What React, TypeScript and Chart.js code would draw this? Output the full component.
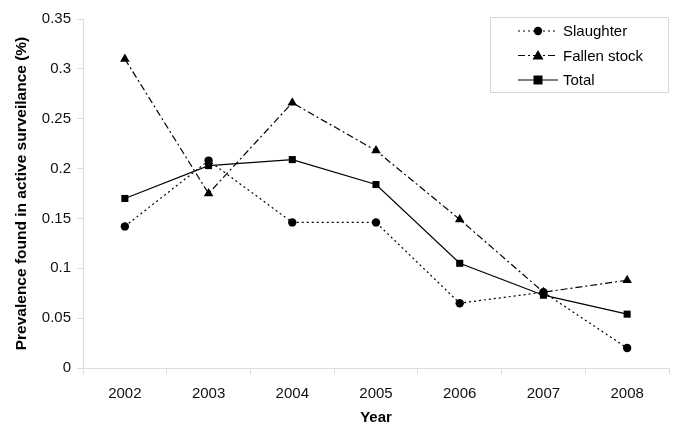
import React, { useEffect, useRef } from "react";
import { Chart, registerables } from "chart.js";

Chart.register(...registerables);

const years = ["2002", "2003", "2004", "2005", "2006", "2007", "2008"];
const slaughter = [0.142, 0.208, 0.146, 0.146, 0.065, 0.076, 0.02];
const fallenStock = [0.31, 0.175, 0.266, 0.218, 0.149, 0.076, 0.088];
const total = [0.17, 0.203, 0.209, 0.184, 0.105, 0.073, 0.054];
const yTicks = [0, 0.05, 0.1, 0.15, 0.2, 0.25, 0.3, 0.35];

const FONT = "'Liberation Sans', Arial, sans-serif";

const legendItems = [
  { label: "Slaughter", dash: [2, 3], style: "circle" },
  { label: "Fallen stock", dash: [7, 3, 2, 3], style: "triangle" },
  { label: "Total", dash: [], style: "rect" },
];

function drawMarker(ctx: CanvasRenderingContext2D, style: string, x: number, y: number) {
  ctx.beginPath();
  if (style === "circle") {
    ctx.arc(x, y, 4.2, 0, Math.PI * 2);
  } else if (style === "triangle") {
    ctx.moveTo(x, y - 5.5);
    ctx.lineTo(x + 5.5, y + 4);
    ctx.lineTo(x - 5.5, y + 4);
    ctx.closePath();
  } else {
    ctx.rect(x - 4.5, y - 4.5, 9, 9);
  }
  ctx.fill();
}

const legendPlugin = {
  id: "customLegend",
  afterDraw(chart: any) {
    const ctx = chart.ctx as CanvasRenderingContext2D;
    ctx.save();
    ctx.strokeStyle = "#d8d8d8";
    ctx.lineWidth = 1;
    ctx.strokeRect(490.5, 17.5, 178, 75);
    ctx.font = `15px ${FONT}`;
    ctx.textBaseline = "middle";
    legendItems.forEach((it, i) => {
      const y = 31 + i * 24.5;
      ctx.strokeStyle = "#000";
      ctx.fillStyle = "#000";
      ctx.lineWidth = 1.2;
      ctx.setLineDash(it.dash);
      ctx.beginPath();
      ctx.moveTo(518, y);
      ctx.lineTo(558, y);
      ctx.stroke();
      ctx.setLineDash([]);
      drawMarker(ctx, it.style, 538, y);
      ctx.fillText(it.label, 563, y + 1);
    });
    ctx.restore();
  },
};

export default function App() {
  const ref = useRef<HTMLCanvasElement | null>(null);
  useEffect(() => {
    if (!ref.current) return;
    const chart = new Chart(ref.current, {
      type: "line",
      data: {
        labels: years,
        datasets: [
          {
            label: "Slaughter",
            data: slaughter,
            borderColor: "#000",
            backgroundColor: "#000",
            borderWidth: 1.2,
            borderDash: [2, 3],
            pointStyle: "circle",
            pointRadius: 4.2,
            pointBorderWidth: 0,
          },
          {
            label: "Fallen stock",
            data: fallenStock,
            borderColor: "#000",
            backgroundColor: "#000",
            borderWidth: 1.2,
            borderDash: [7, 3, 2, 3],
            pointStyle: "triangle",
            pointRadius: 5.5,
            pointBorderWidth: 0,
          },
          {
            label: "Total",
            data: total,
            borderColor: "#000",
            backgroundColor: "#000",
            borderWidth: 1.2,
            pointStyle: "rect",
            pointRadius: 5,
            pointBorderWidth: 0,
          },
        ],
      },
      options: {
        animation: false,
        responsive: false,
        layout: { padding: { top: 19, right: 16, left: 12, bottom: 0 } },
        plugins: { legend: { display: false }, tooltip: { enabled: false } },
        scales: {
          x: {
            offset: true,
            grid: { offset: true, drawOnChartArea: false, color: "#dcdcdc", tickLength: 6 },
            border: { color: "#dcdcdc" },
            ticks: { color: "#111", font: { family: FONT, size: 15 }, padding: 11 },
            title: {
              display: true,
              text: "Year",
              color: "#000",
              font: { family: FONT, size: 15, weight: "bold" },
              padding: { top: 0, bottom: 0 },
            },
            afterFit: (s: any) => {
              s.height = 59;
            },
          },
          y: {
            min: 0,
            max: 0.35,
            afterBuildTicks: (s: any) => {
              s.ticks = yTicks.map((v) => ({ value: v }));
            },
            grid: { drawOnChartArea: false, color: "#dcdcdc", tickLength: 6 },
            border: { color: "#dcdcdc" },
            ticks: {
              color: "#111",
              font: { family: FONT, size: 15 },
              padding: 6,
              callback: (v: any) => String(Number(Number(v).toFixed(2))),
            },
            title: {
              display: true,
              text: "Prevalence found in active surveilance (%)",
              color: "#000",
              font: { family: FONT, size: 15.5, weight: "bold" },
              padding: { top: 0, bottom: 2 },
            },
            afterFit: (s: any) => {
              s.width = 71;
            },
          },
        },
      },
      plugins: [legendPlugin],
    });
    return () => chart.destroy();
  }, []);
  return (
    <div style={{ position: "fixed", left: 0, top: 0, width: 685, height: 427, background: "#fff" }}>
      <canvas ref={ref} width={685} height={427} style={{ width: 685, height: 427 }} />
    </div>
  );
}
